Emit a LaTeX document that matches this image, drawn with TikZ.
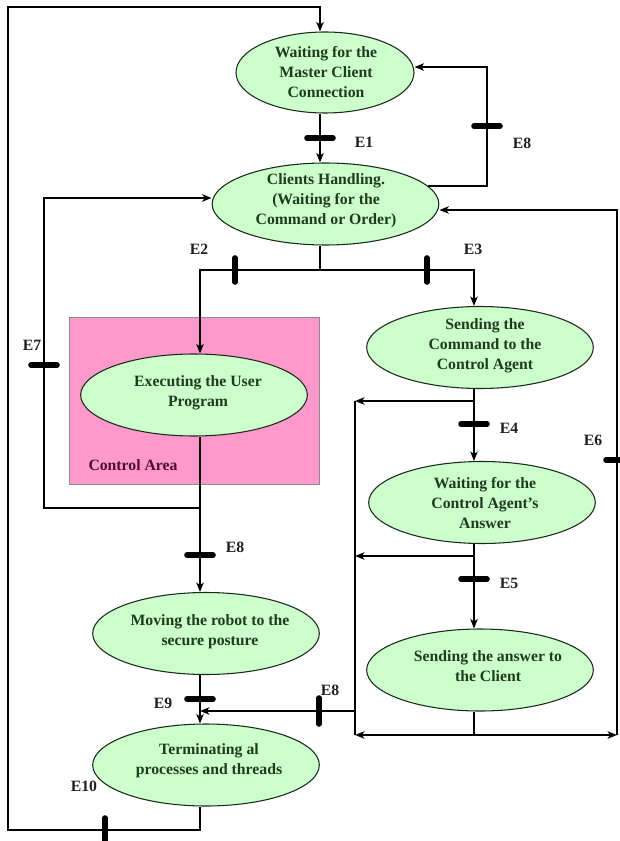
\documentclass[tikz,border=0pt]{standalone}
\usepackage{fontspec}
\setmainfont{Liberation Serif}
\usetikzlibrary{shapes.geometric,arrows.meta}
\definecolor{efill}{HTML}{CCFFCC}
\definecolor{etext}{HTML}{1E3B1E}
\definecolor{pinkbox}{HTML}{FF99CC}
\definecolor{ctext}{HTML}{4B0F2E}
\definecolor{eborder}{HTML}{1A2A1A}
\begin{document}
\begin{tikzpicture}[x=0.75pt,y=-0.75pt,
  state/.style={ellipse, draw=eborder, line width=0.8pt, fill=efill, inner sep=0pt,
                minimum width=170pt, minimum height=61.5pt},
  stxt/.style={font=\bfseries\fontsize{11.8}{15}\selectfont, text=etext, align=center},
  lab/.style={font=\bfseries\fontsize{11.8}{15}\selectfont, text=black!88},
  lnB/.style={line width=2.1pt},
  lnthin/.style={line width=1.5pt},
  arr/.style={-{Stealth[length=7pt,width=5.5pt,inset=1.8pt]}},
  tickbar/.style={line width=4.2pt, line cap=round}]
\useasboundingbox (0,0) rectangle (620,841);

% control area
\fill[pinkbox, draw=black!45, line width=0.5pt] (69,317) rectangle (319,484);
\node[font=\bfseries\fontsize{11.8}{15}\selectfont, text=ctext] (ca) at (133,465) {Control Area};

% states
\node[state, minimum width=133.5pt, minimum height=60.75pt] (s1) at (325,72.5) {};
\node[stxt] (t1) at (326,72.5) {Waiting for the\\Master Client\\Connection};
\node[state] (s2) at (325.5,204) {};
\node[stxt] (t2) at (326,201) {Clients Handling.\\(Waiting for the\\Command or Order)};
\node[state] (s3) at (194,395) {};
\node[stxt] (t3) at (198,393) {Executing the User\\Program};
\node[state] (s4) at (480,347.5) {};
\node[stxt] (t4) at (485,346) {Sending the\\Command to the\\Control Agent};
\node[state] (s5) at (482,502.5) {};
\node[stxt] (t5) at (485,503) {Waiting for the\\Control Agent’s\\Answer};
\node[state] (s6) at (480,670) {};
\node[stxt] (t6) at (488,666) {Sending the answer to\\the Client};
\node[state] (s7) at (206,633.5) {};
\node[stxt] (t7) at (210,632) {Moving the robot to the\\secure posture};
\node[state] (s8) at (206,765) {};
\node[stxt] (t8) at (209,761) {Terminating al\\processes and threads};

% helper coordinates
\coordinate (xA) at (320,0);
\coordinate (xB) at (200,0);
\coordinate (xC) at (474,0);
\coordinate (vL) at (355,0);
\coordinate (oBL) at (8,830);
\coordinate (oTL) at (8,7);
\coordinate (e8c) at (487,67);
\coordinate (e7c) at (44,198);
\coordinate (e6c) at (617,210);
\coordinate (j7) at (200,508);
\coordinate (bus) at (320,270);
\coordinate (j4) at (474,401);
\coordinate (j5) at (474,556);
\coordinate (j6) at (474,735);
\coordinate (bLB) at (355,735);
\coordinate (bRB) at (617,735);
\coordinate (j8) at (355,711);

% outer loop E10
\draw[lnthin, arr] (s8.south -| xB) |- (oBL) -- (oTL) -| (s1.north -| xA);
% E1
\draw[lnB, arr] (s1.south -| xA) -- (s2.north -| xA);
% E8 upper loop
\draw[lnB, arr] (s2.10) -| (e8c) -- (s1.east |- e8c);
% bus E2 / E3
\draw[lnthin] (s2.south -| xA) -- (bus);
\draw[lnB, arr] (bus) -| (s3.north -| xB);
\draw[lnB, arr] (bus) -| (s4.north -| xC);
% s3 -> s7 and E7 loop
\draw[lnthin] (s3.south -| xB) -- (j7);
\draw[lnB, arr] (j7) -- (s7.north -| xB);
\draw[lnthin, arr] (j7) -| (e7c) -- (s2.west |- e7c);
% right column
\draw[lnB, arr] (s4.south -| xC) -- (s5.north -| xC);
\draw[lnB, arr] (j4) -- (j4 -| vL);
\draw[lnB, arr] (s5.south -| xC) -- (s6.north -| xC);
\draw[lnB, arr] (j5) -- (j5 -| vL);
\draw[lnthin] (s6.south -| xC) -- (j6);
\draw[lnB, arr] (j6) -- (bLB);
\draw[lnB, arr] (j6) -- (bRB);
\draw[lnB, arr] (bRB) -- (e6c) -- (s2.east |- e6c);
\draw[lnB] (j4 -| vL) -- (bLB);
\draw[lnB, arr] (j8) -- (j8 -| xB);
% s7 -> s8
\draw[lnB, arr] (s7.south -| xB) -- (s8.north -| xB);

% transition bars
\draw[tickbar] (307,138) -- (333,138);   % E1
\draw[tickbar] (474,126) -- (500,126);   % E8 top
\draw[tickbar] (235,258) -- (235,282);   % E2
\draw[tickbar] (427,258) -- (427,282);   % E3
\draw[tickbar] (31,365) -- (57,365);     % E7
\draw[tickbar] (461,424) -- (487,424);   % E4
\draw[tickbar] (606,460) -- (630,460);   % E6
\draw[tickbar] (187,555) -- (213,555);   % E8 middle
\draw[tickbar] (461,579) -- (487,579);   % E5
\draw[tickbar] (319,698) -- (319,724);   % E8 bottom
\draw[tickbar] (187,699) -- (213,699);   % E9
\draw[tickbar] (105,818) -- (105,845);   % E10

% labels
\node[lab] (lE1) at (364,142) {E1};
\node[lab] (lE8a) at (522,143) {E8};
\node[lab] (lE2) at (199,249) {E2};
\node[lab] (lE3) at (473,249) {E3};
\node[lab] (lE7) at (32,345) {E7};
\node[lab] (lE4) at (509,428) {E4};
\node[lab] (lE6) at (593,440) {E6};
\node[lab] (lE8b) at (235,547) {E8};
\node[lab] (lE5) at (509,583) {E5};
\node[lab] (lE8c) at (330,690) {E8};
\node[lab] (lE9) at (163,703) {E9};
\node[lab] (lE10) at (84,786) {E10};
\end{tikzpicture}
\end{document}
